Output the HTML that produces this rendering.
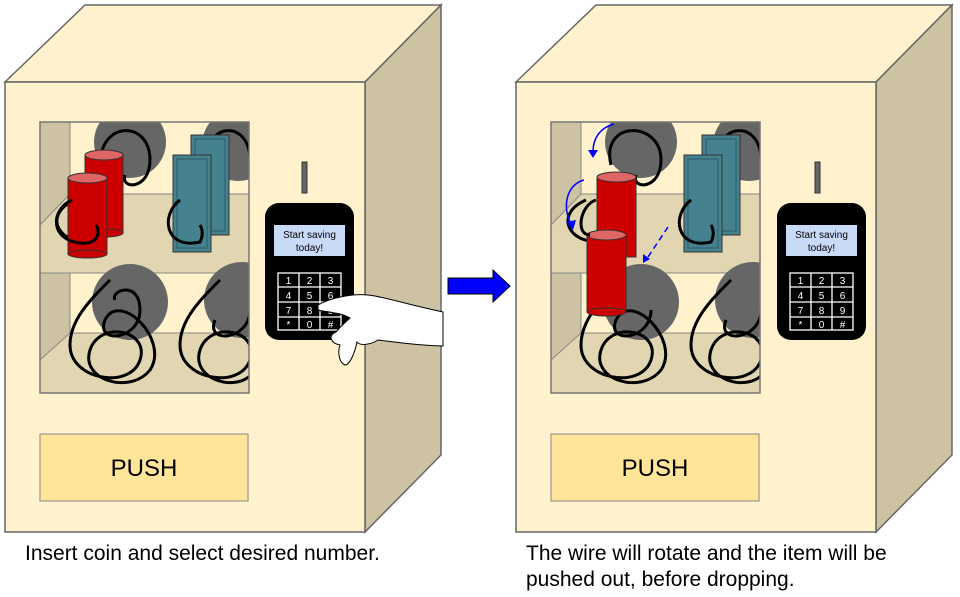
<!DOCTYPE html>
<html><head><style>body{margin:0;background:#fff}svg{display:block}</style></head><body>
<svg width="960" height="597" viewBox="0 0 960 597" xmlns="http://www.w3.org/2000/svg" font-family="Liberation Sans, sans-serif">
<defs>
<g id="machine">
  <polygon points="5,82 85,5 441,5 365,82" fill="#fff2cc" stroke="#666" stroke-width="1.5"/>
  <polygon points="365,82 441,5 441,455 365,532" fill="#cdc3a2" stroke="#666" stroke-width="1.5"/>
  <rect x="5" y="82" width="360" height="450" fill="#fff2cc" stroke="#666" stroke-width="1.5"/>
  <rect x="40" y="122" width="209" height="271" fill="#fff2cc"/>
  <polygon points="40,122 70,122 70,194 40,225" fill="#cdc3a2"/>
  <polygon points="40,273 70,273 70,333 40,360" fill="#cdc3a2"/>
  <polygon points="40,225 70,194 249,194 249,273 40,273" fill="#e1d6b1"/>
  <polygon points="40,360 70,333 249,333 249,393 40,393" fill="#e1d6b1"/>
  <g stroke="#888" stroke-width="1" fill="none">
    <line x1="70" y1="122" x2="70" y2="194"/><line x1="70" y1="273" x2="70" y2="333"/>
    <line x1="40" y1="225" x2="70" y2="194"/><line x1="70" y1="194" x2="249" y2="194"/>
    <line x1="40" y1="273" x2="249" y2="273"/><line x1="40" y1="360" x2="70" y2="333"/>
    <line x1="70" y1="333" x2="249" y2="333"/>
  </g>
  <rect x="40" y="434" width="208" height="67" fill="#ffe599" stroke="#888" stroke-width="1"/>
  <text x="144" y="476" font-size="24" text-anchor="middle" fill="#000">PUSH</text>
</g>
<g id="pad">
  <rect x="-41" y="0" width="89" height="137" rx="14" fill="#000"/>
  <rect x="-32" y="22" width="71" height="31" fill="#c9daf8"/>
  <text x="3.5" y="35" font-size="10" text-anchor="middle">Start saving</text>
  <text x="3.5" y="48" font-size="10" text-anchor="middle">today!</text>
  <g stroke="#fff" stroke-width="1.3" fill="none">
    <rect x="-28" y="70" width="63" height="57"/>
    <line x1="-7" y1="70" x2="-7" y2="127"/><line x1="14" y1="70" x2="14" y2="127"/>
    <line x1="-28" y1="84" x2="35" y2="84"/><line x1="-28" y1="99" x2="35" y2="99"/><line x1="-28" y1="114" x2="35" y2="114"/>
  </g>
  <g fill="#fff" font-size="10" text-anchor="middle">
    <text x="-17.5" y="81">1</text><text x="3.5" y="81">2</text><text x="24.5" y="81">3</text>
    <text x="-17.5" y="96">4</text><text x="3.5" y="96">5</text><text x="24.5" y="96">6</text>
    <text x="-17.5" y="111">7</text><text x="3.5" y="111">8</text><text x="24.5" y="111">9</text>
    <text x="-17.5" y="125">*</text><text x="3.5" y="125">0</text><text x="24.5" y="125">#</text>
  </g>
</g>
<clipPath id="w1"><rect x="40" y="122" width="209" height="271"/></clipPath>
<clipPath id="w2"><rect x="551" y="122" width="209" height="271"/></clipPath>
</defs>

<!-- Left machine -->
<use href="#machine"/>
<g clip-path="url(#w1)" fill="none" stroke="#000" stroke-width="3">
  <circle cx="130" cy="142" r="36" fill="#666" stroke="none"/>
  <circle cx="238" cy="145" r="36" fill="#666" stroke="none"/>
  <circle cx="130" cy="302" r="38" fill="#666" stroke="none"/>
  <circle cx="242" cy="300" r="38" fill="#666" stroke="none"/>
  <path d="M100,165 C100,120 150,120 150,160 C150,190 120,190 125,175 M110,200 C120,210 125,225 105,235 M75,200 C40,215 60,250 100,240 C100,230 95,225 95,225"/>
  <path d="M205,165 C205,120 250,120 250,160 M195,200 C160,215 175,250 205,240 C205,230 200,225 200,225 M215,195 C225,210 225,225 212,232"/>
  <path d="M110,280 C90,300 70,320 70,345 C70,380 130,390 140,360 C150,330 100,320 90,350 C80,380 130,395 150,370 C170,340 120,290 105,320 C95,345 140,340 140,310 C140,280 110,290 115,300"/>
  <path d="M220,280 C200,300 180,320 180,345 C180,380 240,390 250,360 C260,330 210,320 200,350 C190,380 240,395 255,370 M215,320 C205,345 250,340 250,310"/>
</g>
<rect x="40" y="122" width="209" height="271" fill="none" stroke="#777" stroke-width="1.5"/>
<!-- left items -->
<g stroke="#333" stroke-width="1">
  <rect x="85" y="155" width="38" height="78" fill="#cc0000"/><ellipse cx="104" cy="155" rx="19" ry="5" fill="#e06666"/><ellipse cx="104" cy="233" rx="19" ry="4" fill="#cc0000"/>
  <rect x="68" y="178" width="39" height="76" fill="#cc0000"/><ellipse cx="87.5" cy="178" rx="19.5" ry="5" fill="#e06666"/><ellipse cx="87.5" cy="254" rx="19.5" ry="4" fill="#cc0000"/>
  <rect x="191" y="135" width="38" height="100" fill="#45818e"/><rect x="195" y="139" width="30" height="92" fill="#45818e" stroke="#2a5a64"/>
  <rect x="173" y="155" width="38" height="97" fill="#45818e"/><rect x="177" y="159" width="30" height="89" fill="#45818e" stroke="#2a5a64"/>
</g>
<g fill="none" stroke="#000" stroke-width="3">
  <path d="M72,200 C50,210 50,240 80,243 C100,245 100,230 96,225"/>
  <path d="M180,200 C160,215 165,250 200,242 C205,232 200,225 200,225"/>
</g>
<rect x="302" y="162" width="5" height="31" fill="#666" stroke="#333"/>
<use href="#pad" x="306" y="203"/>
<!-- hand -->
<path d="M318,305 C330,298 355,292 375,296 C395,300 410,305 443,312 L443,346 C420,346 395,342 378,340 C370,345 360,346 357,342 C355,352 350,365 345,365 C338,362 338,350 340,345 C330,343 328,335 336,332 C342,325 350,318 350,318 C340,312 325,312 318,310 Z" fill="#fff" stroke="#000" stroke-width="1"/>
<!-- arrow -->
<polygon points="448,278 493,278 493,270 510,286 493,302 493,294 448,294" fill="#0000ff" stroke="#000" stroke-width="1"/>

<!-- Right machine -->
<use href="#machine" x="511"/>
<g clip-path="url(#w2)" fill="none" stroke="#000" stroke-width="3">
  <circle cx="641" cy="142" r="36" fill="#666" stroke="none"/>
  <circle cx="749" cy="145" r="36" fill="#666" stroke="none"/>
  <circle cx="641" cy="302" r="38" fill="#666" stroke="none"/>
  <circle cx="753" cy="300" r="38" fill="#666" stroke="none"/>
  <path d="M611,165 C600,120 661,120 661,160 C661,190 631,190 636,175 M620,200 C630,210 635,225 615,235 M586,200 C551,215 571,250 611,240"/>
  <path d="M716,165 C716,120 761,120 761,160 M706,200 C671,215 686,250 716,240 C716,230 711,225 711,225 M726,195 C736,210 736,225 723,232"/>
  <path d="M621,280 C601,300 581,320 581,345 C581,380 641,390 651,360 C661,330 611,320 601,350 C591,380 641,395 661,370 C681,340 631,290 616,320 C606,345 651,340 651,310"/>
  <path d="M731,280 C711,300 691,320 691,345 C691,380 751,390 761,360 C771,330 721,320 711,350 C701,380 751,395 766,370 M726,320 C716,345 761,340 761,310"/>
</g>
<rect x="551" y="122" width="209" height="271" fill="none" stroke="#777" stroke-width="1.5"/>
<g stroke="#333" stroke-width="1">
  <rect x="702" y="135" width="38" height="100" fill="#45818e"/><rect x="706" y="139" width="30" height="92" fill="#45818e" stroke="#2a5a64"/>
  <rect x="684" y="155" width="38" height="97" fill="#45818e"/><rect x="688" y="159" width="30" height="89" fill="#45818e" stroke="#2a5a64"/>
  <rect x="597" y="177" width="39" height="80" fill="#cc0000"/><ellipse cx="616.5" cy="177" rx="19.5" ry="5" fill="#e06666"/>
  <rect x="587" y="235" width="39" height="77" fill="#cc0000"/><ellipse cx="606.5" cy="235" rx="19.5" ry="5" fill="#e06666"/><ellipse cx="606.5" cy="312" rx="19.5" ry="4" fill="#cc0000"/>
</g>
<g fill="none" stroke="#000" stroke-width="3">
  <path d="M596,200 C580,205 575,235 590,235"/>
  <path d="M691,200 C671,215 676,250 711,242 C716,232 711,225 711,225"/>
</g>
<g fill="none" stroke="#0000ff" stroke-width="1.5">
  <path d="M614,124 C600,128 593,138 593,152"/>
  <path d="M584,180 C565,185 562,210 572,225"/>
  <path d="M668,227 L646,260" stroke-dasharray="6,4"/>
</g>
<g fill="#0000ff">
  <polygon points="588,150 598,150 593,158"/>
  <polygon points="566,222 576,220 573,230"/>
  <polygon points="643,254 650,259 643,263"/>
</g>
<rect x="815" y="162" width="5" height="31" fill="#666" stroke="#333"/>
<use href="#pad" x="818" y="203"/>

<text x="25" y="560" font-size="21" fill="#000">Insert coin and select desired number.</text>
<text x="526" y="560" font-size="21" fill="#000">The wire will rotate and the item will be</text>
<text x="526" y="586" font-size="21" fill="#000">pushed out, before dropping.</text>
</svg>
</body></html>
